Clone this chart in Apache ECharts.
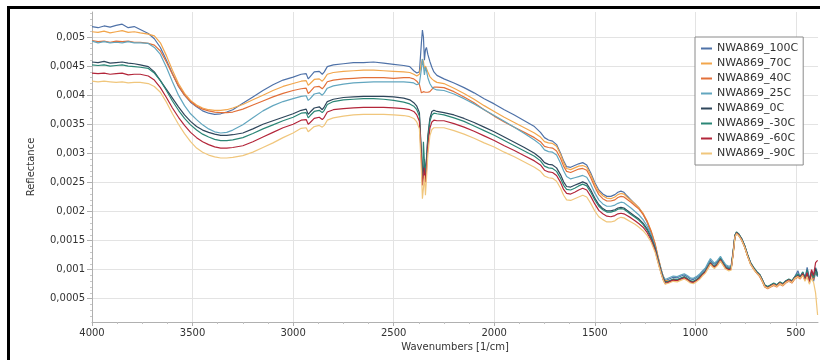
<!DOCTYPE html>
<html>
<head>
<meta charset="utf-8">
<script src="https://cdn.jsdelivr.net/npm/echarts@6/dist/echarts.min.js"></script>
<style>
html,body{margin:0;padding:0;background:#fff;}
#chart{width:820px;height:360px;}
</style>
</head>
<body>
<div id="chart"></div>
<script>
// Wavenumbers [1/cm]
var wavenumbers = [
4000,3970,3940,3910,3880,3850,3820,3790,3760,3720,
3690,3660,3630,3600,3570,3540,3510,3480,3450,3420,3390,3360,3330,3300,3250,3200,3150,3100,3050,3000,
2960,2935,2925,2915,2895,2870,2855,2845,2830,2800,2750,2700,2650,2600,2550,2500,2450,2420,
2400,2385,2372,2362,2357,2352,2347,2342,2337,2330,2320,2310,2300,2285,
2250,2200,2150,2100,2050,2000,1950,1900,1850,1800,1770,1750,1730,1710,1690,1670,1655,1640,1620,1600,
1580,1560,1540,1520,1500,1480,1460,1440,1420,1400,1385,1370,1355,1340,1320,1300,1280,1260,1240,1220,
1200,1185,1170,1160,1150,
1130,1110,1090,1070,1055,1040,1025,1010,995,980,965,950,935,925,915,905,890,875,865,850,
835,822,812,803,795,785,770,755,740,725,710,695,680,668,655,640,625,610,595,580,
565,550,535,520,505,490,478,466,455,444,433,422,412,402,392
];

var r100 = [
.00518,.00516,.00519,.00517,.00520,.00522,.00516,.00518,.00513,.00506,
.00497,.00482,.00460,.00437,.00415,.00400,.00388,.00380,.00373,.00369,.00367,.00368,.00371,.00375,.00386,.00397,.00408,.00418,.00426,.00431,
.00436,.00437,.00428,.00432,.00440,.00441,.00436,.00440,.00449,.00452,.00454,.00456,.00456,.00457,.00455,.00453,.00451,.00449,
.00442,.00438,.00440,.00490,.00512,.00500,.00460,.00478,.00482,.00470,.00458,.00448,.00440,.00434,
.00428,.00421,.00413,.00404,.00394,.00385,.00375,.00366,.00356,.00346,.00336,.00327,.00323,.00321,.00315,.00300,.00287,.00277,.00276,.00279,
.00282,.00284,.00280,.00266,.00250,.00237,.00230,.00226,.00226,.00229,.00233,.00235,.00233,.00227,.00220,.00213,.00206,.00196,.00182,.00164,
.00141,.00118,.00098,.00087,.00081,
.00084,.00087,.00086,.00089,.00091,.00088,.00084,.00083,.00086,.00090,.00096,.00101,.00111,.00116,.00112,.00109,.00114,.00121,.00115,.00107,
.00104,.00105,.00131,.00159,.00164,.00161,.00153,.00141,.00125,.00111,.00103,.00096,.00091,.00083,.00073,.00070,.00073,.00076,.00073,.00078,
.00075,.00080,.00083,.00080,.00088,.00098,.00086,.00090,.00083,.00104,.00086,.00092,.00080,.00095,.00088
];
var r70 = [
.00509,.00508,.00510,.00507,.00509,.00511,.00508,.00509,.00507,.00505,
.00502,.00490,.00468,.00443,.00420,.00403,.00391,.00383,.00378,.00375,.00374,.00374,.00375,.00378,.00384,.00392,.00400,.00408,.00415,.00420,
.00424,.00425,.00417,.00420,.00427,.00428,.00424,.00428,.00436,.00439,.00441,.00442,.00443,.00443,.00442,.00441,.00440,.00439,
.00436,.00433,.00436,.00455,.00462,.00458,.00445,.00450,.00448,.00440,.00432,.00428,.00425,.00422,
.00420,.00412,.00403,.00393,.00382,.00372,.00362,.00353,.00344,.00335,.00328,.00320,.00318,.00317,.00312,.00298,.00284,.00274,.00272,.00275,
.00278,.00279,.00276,.00263,.00247,.00234,.00227,.00223,.00222,.00225,.00229,.00231,.00230,.00225,.00219,.00213,.00206,.00197,.00184,.00167,
.00145,.00122,.00101,.00089,.00082,
.00080,.00083,.00082,.00085,.00087,.00084,.00080,.00079,.00082,.00086,.00092,.00097,.00105,.00111,.00107,.00104,.00109,.00117,.00111,.00103,
.00101,.00102,.00128,.00157,.00162,.00160,.00151,.00139,.00123,.00110,.00101,.00094,.00089,.00081,.00071,.00068,.00071,.00074,.00071,.00076,
.00073,.00078,.00081,.00078,.00085,.00088,.00085,.00092,.00086,.00090,.00082,.00090,.00088,.00096,.00092
];
var r40 = [
.00494,.00492,.00493,.00491,.00493,.00492,.00493,.00491,.00491,.00489,
.00486,.00476,.00457,.00436,.00416,.00400,.00389,.00381,.00376,.00373,.00371,.00370,.00370,.00371,.00376,.00383,.00390,.00397,.00403,.00408,
.00411,.00412,.00403,.00406,.00414,.00415,.00411,.00415,.00423,.00426,.00428,.00429,.00430,.00430,.00430,.00429,.00430,.00430,
.00428,.00424,.00418,.00404,.00402,.00406,.00403,.00405,.00404,.00405,.00406,.00410,.00414,.00414,
.00413,.00406,.00397,.00387,.00375,.00364,.00354,.00345,.00336,.00327,.00320,.00312,.00310,.00309,.00304,.00291,.00278,.00269,.00267,.00270,
.00273,.00274,.00271,.00258,.00242,.00229,.00222,.00218,.00218,.00220,.00224,.00226,.00225,.00221,.00216,.00210,.00204,.00195,.00183,.00166,
.00144,.00121,.00100,.00088,.00081,
.00079,.00082,.00081,.00084,.00086,.00083,.00079,.00078,.00081,.00085,.00091,.00096,.00104,.00110,.00106,.00103,.00108,.00116,.00110,.00102,
.00100,.00101,.00127,.00156,.00162,.00159,.00151,.00139,.00123,.00109,.00101,.00094,.00088,.00080,.00070,.00067,.00070,.00073,.00070,.00075,
.00072,.00077,.00080,.00077,.00084,.00087,.00084,.00091,.00083,.00089,.00078,.00093,.00083,.00098,.00094
];
var r25 = [
.00493,.00490,.00492,.00490,.00491,.00490,.00492,.00490,.00490,.00489,
.00482,.00470,.00448,.00423,.00400,.00382,.00368,.00358,.00349,.00342,.00337,.00335,.00336,.00340,.00349,.00361,.00373,.00382,.00389,.00394,
.00398,.00399,.00391,.00394,.00402,.00404,.00400,.00404,.00412,.00416,.00419,.00421,.00422,.00423,.00423,.00423,.00423,.00422,
.00421,.00418,.00420,.00445,.00462,.00450,.00435,.00448,.00442,.00430,.00420,.00414,.00411,.00409,
.00408,.00402,.00394,.00385,.00375,.00365,.00355,.00345,.00334,.00323,.00315,.00306,.00303,.00302,.00297,.00283,.00270,.00260,.00256,.00258,
.00260,.00262,.00259,.00247,.00232,.00220,.00213,.00209,.00209,.00211,.00214,.00216,.00215,.00211,.00206,.00200,.00194,.00186,.00175,.00160,
.00140,.00119,.00100,.00089,.00083,
.00086,.00089,.00088,.00091,.00093,.00090,.00086,.00085,.00088,.00092,.00098,.00103,.00113,.00119,.00115,.00111,.00116,.00123,.00117,.00109,
.00106,.00106,.00132,.00160,.00164,.00161,.00153,.00141,.00125,.00111,.00103,.00096,.00091,.00083,.00073,.00070,.00073,.00076,.00073,.00078,
.00075,.00080,.00083,.00080,.00087,.00092,.00089,.00096,.00088,.00094,.00084,.00098,.00090,.00104,.00094
];
var r0 = [
.00457,.00456,.00458,.00455,.00456,.00457,.00455,.00454,.00452,.00449,
.00440,.00425,.00410,.00395,.00380,.00366,.00355,.00346,.00340,.00336,.00333,.00331,.00331,.00332,.00335,.00342,.00350,.00356,.00362,.00368,
.00374,.00376,.00367,.00371,.00378,.00380,.00375,.00380,.00389,.00393,.00396,.00397,.00398,.00398,.00398,.00397,.00395,.00392,
.00387,.00381,.00370,.00300,.00255,.00270,.00290,.00262,.00290,.00330,.00360,.00372,.00374,.00372,
.00370,.00366,.00360,.00353,.00345,.00337,.00328,.00319,.00310,.00300,.00292,.00284,.00281,.00280,.00275,.00263,.00251,.00243,.00242,.00245,
.00248,.00251,.00248,.00237,.00223,.00212,.00205,.00201,.00201,.00203,.00206,.00207,.00206,.00202,.00197,.00192,.00187,.00180,.00170,.00156,
.00137,.00116,.00097,.00086,.00079,
.00080,.00083,.00082,.00085,.00087,.00084,.00080,.00079,.00082,.00086,.00092,.00097,.00106,.00112,.00108,.00105,.00110,.00118,.00112,.00104,
.00101,.00102,.00129,.00158,.00164,.00161,.00153,.00141,.00125,.00111,.00103,.00096,.00091,.00083,.00073,.00070,.00073,.00076,.00073,.00078,
.00075,.00080,.00083,.00080,.00087,.00090,.00088,.00095,.00087,.00093,.00082,.00096,.00087,.00102,.00091
];
var rm30 = [
.00452,.00451,.00452,.00450,.00451,.00452,.00450,.00449,.00448,.00446,
.00438,.00425,.00408,.00390,.00374,.00360,.00349,.00340,.00333,.00328,.00324,.00322,.00322,.00323,.00327,.00334,.00342,.00349,.00356,.00362,
.00369,.00370,.00361,.00365,.00372,.00374,.00370,.00374,.00384,.00389,.00392,.00393,.00394,.00394,.00393,.00391,.00388,.00385,
.00381,.00375,.00364,.00295,.00250,.00320,.00285,.00265,.00285,.00325,.00355,.00366,.00369,.00368,
.00366,.00361,.00355,.00347,.00339,.00331,.00322,.00313,.00304,.00295,.00287,.00278,.00275,.00274,.00269,.00257,.00245,.00238,.00237,.00240,
.00244,.00247,.00244,.00233,.00220,.00209,.00203,.00199,.00199,.00201,.00204,.00205,.00204,.00200,.00195,.00190,.00185,.00178,.00168,.00154,
.00135,.00114,.00095,.00084,.00078,
.00081,.00084,.00083,.00086,.00088,.00085,.00081,.00080,.00083,.00087,.00093,.00098,.00107,.00113,.00109,.00106,.00111,.00119,.00113,.00105,
.00102,.00103,.00130,.00159,.00165,.00162,.00154,.00142,.00126,.00112,.00104,.00097,.00092,.00084,.00074,.00071,.00074,.00077,.00074,.00079,
.00076,.00081,.00084,.00081,.00088,.00093,.00087,.00096,.00084,.00100,.00083,.00094,.00086,.00097,.00089
];
var rm60 = [
.00438,.00437,.00438,.00436,.00437,.00438,.00435,.00436,.00436,.00433,
.00426,.00413,.00396,.00378,.00362,.00348,.00336,.00327,.00320,.00315,.00311,.00309,.00309,.00310,.00313,.00320,.00328,.00336,.00344,.00350,
.00357,.00358,.00350,.00353,.00360,.00362,.00358,.00362,.00371,.00375,.00377,.00378,.00379,.00379,.00379,.00378,.00377,.00375,
.00372,.00366,.00355,.00290,.00245,.00258,.00275,.00250,.00270,.00312,.00343,.00354,.00357,.00356,
.00356,.00351,.00345,.00338,.00330,.00322,.00313,.00305,.00296,.00287,.00280,.00271,.00268,.00267,.00262,.00250,.00238,.00231,.00230,.00233,
.00237,.00240,.00237,.00226,.00213,.00202,.00196,.00192,.00191,.00193,.00196,.00197,.00196,.00193,.00189,.00184,.00179,.00173,.00164,.00151,
.00133,.00113,.00094,.00083,.00076,
.00079,.00082,.00081,.00084,.00086,.00083,.00079,.00078,.00081,.00085,.00091,.00096,.00105,.00111,.00107,.00104,.00109,.00117,.00111,.00103,
.00100,.00101,.00128,.00157,.00163,.00160,.00152,.00140,.00124,.00110,.00102,.00095,.00090,.00082,.00072,.00069,.00072,.00075,.00072,.00077,
.00074,.00079,.00082,.00079,.00086,.00089,.00086,.00093,.00082,.00095,.00078,.00100,.00090,.00112,.00116
];
var rm90 = [
.00424,.00423,.00424,.00423,.00422,.00423,.00421,.00422,.00422,.00420,
.00415,.00405,.00388,.00368,.00350,.00334,.00320,.00309,.00302,.00297,.00294,.00292,.00292,.00293,.00296,.00302,.00310,.00318,.00327,.00335,
.00343,.00344,.00337,.00340,.00346,.00348,.00345,.00348,.00357,.00361,.00364,.00366,.00367,.00367,.00367,.00366,.00365,.00363,
.00360,.00354,.00342,.00270,.00222,.00240,.00262,.00228,.00255,.00298,.00330,.00341,.00344,.00344,
.00344,.00339,.00333,.00326,.00318,.00311,.00302,.00294,.00285,.00276,.00269,.00261,.00258,.00257,.00252,.00240,.00228,.00220,.00219,.00222,
.00225,.00228,.00225,.00214,.00201,.00191,.00186,.00182,.00182,.00184,.00188,.00190,.00189,.00186,.00182,.00178,.00173,.00167,.00159,.00147,
.00130,.00111,.00093,.00082,.00075,
.00077,.00080,.00079,.00082,.00084,.00081,.00077,.00076,.00079,.00083,.00089,.00094,.00103,.00109,.00105,.00102,.00107,.00115,.00109,.00101,
.00098,.00099,.00126,.00156,.00162,.00159,.00151,.00139,.00123,.00109,.00101,.00094,.00089,.00081,.00071,.00068,.00071,.00074,.00071,.00076,
.00073,.00078,.00081,.00078,.00085,.00088,.00085,.00090,.00080,.00088,.00075,.00085,.00078,.00060,.00022
];

var seriesNames = ['NWA869_100C','NWA869_70C','NWA869_40C','NWA869_25C','NWA869_0C','NWA869_-30C','NWA869_-60C','NWA869_-90C'];
var seriesValues = [r100, r70, r40, r25, r0, rm30, rm60, rm90];
var seriesColors = ['#4f72a8','#f2a64c','#e2703a','#62a6bf','#2f465b','#2b8676','#b3263a','#f0c67c'];

var xTicks = [4000,3500,3000,2500,2000,1500,1000,500];
var xMinorTicks = [3875,3750,3625,3375,3250,3125,2875,2750,2625,2375,2250,2125,1875,1750,1625,1375,1250,1125,875,750,625];
var yTicks = [0.0005,0.001,0.0015,0.002,0.0025,0.003,0.0035,0.004,0.0045,0.005];
var yMinorTicks = [0.0002,0.0003,0.0004,0.0006,0.0007,0.0008,0.0009,0.0011,0.0012,0.0013,0.0014,0.0016,0.0017,0.0018,0.0019,
0.0021,0.0022,0.0023,0.0024,0.0026,0.0027,0.0028,0.0029,0.0031,0.0032,0.0033,0.0034,0.0036,0.0037,0.0038,0.0039,
0.0041,0.0042,0.0043,0.0044,0.0046,0.0047,0.0048,0.0049,0.0051,0.0052,0.0053,0.0054];

var FONT = 'DejaVu Sans';
var XMIN = 390, XMAX = 4000, YMIN = 0.0001, YMAX = 0.00543;

var chart = echarts.init(document.getElementById('chart'), null, {renderer: 'canvas'});
var option = {
  animation: false,
  backgroundColor: '#ffffff',
  textStyle: {fontFamily: FONT},
  graphic: [
    {type: 'rect', shape: {x: 7, y: 6, width: 813, height: 3}, style: {fill: '#000'}, z: 100},
    {type: 'rect', shape: {x: 7, y: 6, width: 3, height: 354}, style: {fill: '#000'}, z: 100}
  ],
  grid: {left: 92, right: 2, top: 12, bottom: 38, containLabel: false},
  legend: {
    orient: 'vertical',
    left: 695, top: 37,
    data: seriesNames,
    icon: 'rect',
    itemWidth: 11, itemHeight: 2,
    itemGap: 2,
    padding: [5, 5, 5, 6],
    borderColor: '#8a8a8a', borderWidth: 1,
    backgroundColor: '#ffffff',
    textStyle: {fontFamily: FONT, fontSize: 11, color: '#333', lineHeight: 13}
  },
  xAxis: [{
    type: 'value', inverse: true, min: XMIN, max: XMAX,
    name: 'Wavenumbers [1/cm]', nameLocation: 'middle', nameGap: 18,
    nameTextStyle: {fontFamily: FONT, fontSize: 10, color: '#333'},
    axisLine: {show: true, lineStyle: {color: '#b0b0b0'}},
    axisTick: {show: true, length: 4, lineStyle: {color: '#b0b0b0'}, customValues: xTicks},
    axisLabel: {customValues: xTicks, fontFamily: FONT, fontSize: 10, color: '#333', margin: 6,
      formatter: function (v) { return String(v); }},
    splitLine: {show: true, lineStyle: {color: '#e3e3e3'}}
  }, {
    type: 'value', inverse: true, min: XMIN, max: XMAX, position: 'bottom',
    axisLine: {show: false},
    axisTick: {show: true, length: 2, lineStyle: {color: '#c0c0c0'}, customValues: xMinorTicks},
    axisLabel: {show: false},
    splitLine: {show: false}
  }],
  yAxis: [{
    type: 'value', min: YMIN, max: YMAX,
    name: 'Reflectance', nameLocation: 'middle', nameGap: 56,
    nameTextStyle: {fontFamily: FONT, fontSize: 10, color: '#333'},
    axisLine: {show: true, lineStyle: {color: '#b0b0b0'}},
    axisTick: {show: true, length: 5, lineStyle: {color: '#b0b0b0'}, customValues: yTicks},
    axisLabel: {customValues: yTicks, fontFamily: FONT, fontSize: 10, color: '#333', margin: 7,
      formatter: function (v) { return String(v).replace('.', ','); }},
    splitLine: {show: true, lineStyle: {color: '#e3e3e3'}}
  }, {
    type: 'value', min: YMIN, max: YMAX, position: 'left',
    axisLine: {show: false},
    axisTick: {show: true, length: 2, lineStyle: {color: '#c8c8c8'}, customValues: yMinorTicks},
    axisLabel: {show: false},
    splitLine: {show: false}
  }],
  series: seriesNames.map(function (name, k) {
    return {
      name: name, type: 'line', xAxisIndex: 0, yAxisIndex: 0,
      showSymbol: false, symbol: 'none', smooth: false,
      lineStyle: {width: 1.2, color: seriesColors[k]},
      itemStyle: {color: seriesColors[k]},
      data: wavenumbers.map(function (w, i) { return [w, seriesValues[k][i]]; })
    };
  })
};
chart.setOption(option);
</script>
</body>
</html>
